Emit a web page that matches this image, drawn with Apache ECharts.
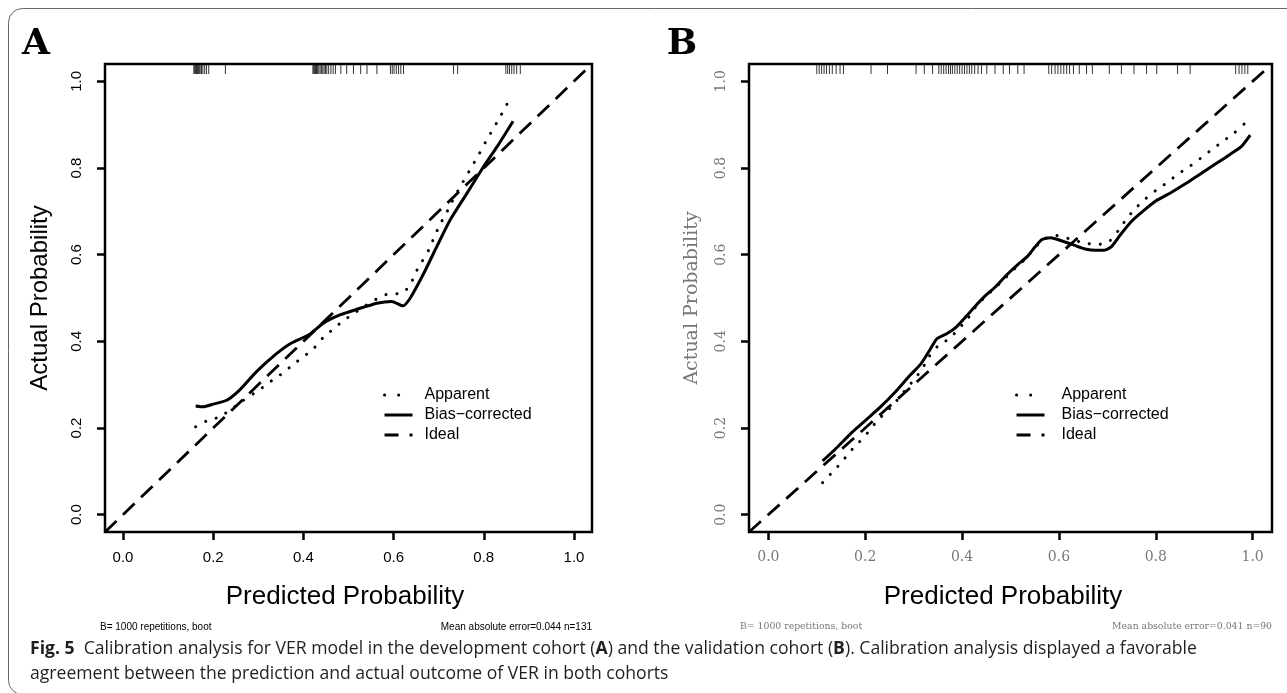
<!DOCTYPE html>
<html><head><meta charset="utf-8">
<script src="https://cdn.jsdelivr.net/npm/echarts@6/dist/echarts.min.js"></script>
<style>html,body{margin:0;padding:0;background:#fff}#c{width:1287px;height:693px}</style>
</head><body><div id="c"></div><script>
// ---------- data ----------
const tickValues = [0, 0.2, 0.4, 0.6, 0.8, 1.0];
const legendNames = ['Apparent', 'Bias\u2212corrected', 'Ideal'];
const idealLine = [[-0.04, -0.04], [1.04, 1.04]];

const apparentA = [[0.161,0.203],[0.187,0.217],[0.215,0.226],[0.263,0.261],[0.309,0.293],[0.332,0.311],[0.356,0.328],[0.379,0.348],[0.402,0.366],[0.425,0.386],[0.444,0.409],[0.467,0.429],[0.489,0.448],[0.513,0.465],[0.537,0.482],[0.561,0.497],[0.587,0.509],[0.615,0.510],[0.636,0.528],[0.648,0.557],[0.663,0.584],[0.678,0.611],[0.690,0.640],[0.702,0.668],[0.717,0.696],[0.730,0.723],[0.744,0.750],[0.759,0.777],[0.774,0.804],[0.789,0.831],[0.804,0.860],[0.819,0.887],[0.833,0.912],[0.848,0.941],[0.863,0.968]];
const biasA = [[0.161,0.251],[0.178,0.249],[0.200,0.255],[0.230,0.264],[0.259,0.288],[0.296,0.330],[0.341,0.372],[0.370,0.394],[0.415,0.417],[0.444,0.442],[0.481,0.461],[0.519,0.474],[0.563,0.488],[0.596,0.492],[0.621,0.482],[0.637,0.500],[0.667,0.557],[0.696,0.619],[0.726,0.681],[0.763,0.742],[0.800,0.804],[0.830,0.850],[0.865,0.908]];
const rugA = [0.157,0.159,0.161,0.163,0.165,0.167,0.169,0.171,0.174,0.177,0.181,0.185,0.190,0.227,0.421,0.423,0.425,0.427,0.429,0.431,0.434,0.437,0.440,0.443,0.446,0.449,0.452,0.456,0.461,0.466,0.471,0.483,0.496,0.511,0.527,0.541,0.563,0.593,0.597,0.601,0.606,0.611,0.616,0.622,0.733,0.742,0.849,0.853,0.857,0.862,0.867,0.873,0.881];

const apparentB = [[0.112,0.074],[0.132,0.098],[0.152,0.122],[0.169,0.146],[0.188,0.168],[0.208,0.193],[0.225,0.217],[0.246,0.240],[0.265,0.263],[0.283,0.288],[0.302,0.313],[0.318,0.337],[0.332,0.365],[0.350,0.389],[0.373,0.406],[0.394,0.430],[0.412,0.453],[0.427,0.478],[0.446,0.501],[0.469,0.524],[0.491,0.548],[0.512,0.571],[0.531,0.590],[0.550,0.615],[0.569,0.636],[0.596,0.644],[0.623,0.636],[0.652,0.627],[0.679,0.623],[0.705,0.632],[0.723,0.656],[0.740,0.683],[0.758,0.707],[0.778,0.728],[0.800,0.748],[0.823,0.766],[0.846,0.786],[0.869,0.803],[0.892,0.822],[0.915,0.842],[0.938,0.861],[0.962,0.881],[0.983,0.902]];
const biasB = [[0.112,0.124],[0.138,0.151],[0.169,0.186],[0.200,0.217],[0.231,0.248],[0.262,0.283],[0.292,0.321],[0.315,0.348],[0.335,0.383],[0.348,0.406],[0.369,0.418],[0.388,0.433],[0.408,0.457],[0.423,0.476],[0.446,0.503],[0.469,0.526],[0.492,0.553],[0.515,0.577],[0.535,0.596],[0.550,0.617],[0.565,0.635],[0.583,0.639],[0.608,0.631],[0.631,0.622],[0.654,0.613],[0.677,0.610],[0.692,0.610],[0.708,0.618],[0.727,0.646],[0.750,0.677],[0.773,0.700],[0.800,0.724],[0.831,0.743],[0.862,0.764],[0.892,0.786],[0.923,0.809],[0.954,0.832],[0.977,0.850],[0.995,0.876]];
const rugB = [0.100,0.105,0.110,0.115,0.120,0.126,0.132,0.140,0.148,0.155,0.212,0.246,0.305,0.322,0.339,0.352,0.357,0.362,0.367,0.372,0.376,0.380,0.385,0.390,0.395,0.400,0.405,0.410,0.415,0.420,0.426,0.433,0.440,0.451,0.468,0.485,0.498,0.515,0.528,0.579,0.585,0.592,0.598,0.604,0.610,0.616,0.622,0.630,0.642,0.657,0.669,0.704,0.729,0.755,0.781,0.802,0.845,0.871,0.965,0.972,0.978,0.984,0.990];

const footLeft = 'B= 1000 repetitions, boot';
const footRightA = 'Mean absolute error=0.044 n=131';
const footRightB = 'Mean absolute error=0.041 n=90';
const captionLine1 = ['Fig. 5', '  Calibration analysis for VER model in the development cohort (', 'A', ') and the validation cohort (', 'B', '). Calibration analysis displayed a favorable'];
const captionLine2 = 'agreement between the prediction and actual outcome of VER in both cohorts';

// ---------- styles ----------
const SANS = '"Liberation Sans", Arial, sans-serif';
const SERIF = '"DejaVu Serif", serif';
const panels = [
  {grid:{left:105, top:64, width:487, height:468}, font:SANS, tickColor:'#000', tickSize:15, app:apparentA, bias:biasA, rug:rugA},
  {grid:{left:749, top:64, width:523, height:468}, font:SERIF, tickColor:'#777', tickSize:14, app:apparentB, bias:biasB, rug:rugB}
];
const dotType = [0.1, 11];
const dashType = [16, 9];

const grids = [], xAxes = [], yAxes = [], series = [];
panels.forEach((p, i) => {
  grids.push(Object.assign({show:true, borderColor:'#000', borderWidth:2.5, backgroundColor:'transparent'}, p.grid));
  xAxes.push({type:'value', gridIndex:i, min:-0.04, max:1.04,
    axisLine:{show:false, onZero:false}, splitLine:{show:false},
    axisTick:{show:true, customValues:tickValues, length:8, lineStyle:{color:'#000', width:2.5}},
    axisLabel:{customValues:tickValues, formatter:v=>v.toFixed(1), margin:18, fontSize:p.tickSize, color:p.tickColor, fontFamily:p.font}});
  yAxes.push({type:'value', gridIndex:i, min:-0.04, max:1.04,
    axisLine:{show:false, onZero:false}, splitLine:{show:false},
    axisTick:{show:true, customValues:tickValues, length:8, lineStyle:{color:'#000', width:2.5}},
    axisLabel:{customValues:tickValues, formatter:v=>v.toFixed(1), rotate:90, margin:21, fontSize:p.tickSize, color:p.tickColor, fontFamily:p.font}});
  series.push({name:legendNames[2], type:'line', xAxisIndex:i, yAxisIndex:i, data:idealLine, symbol:'none', silent:true,
    lineStyle:{color:'#000', width:2.8, type:dashType}});
  series.push({name:legendNames[0], type:'line', xAxisIndex:i, yAxisIndex:i, data:p.app, symbol:'none', silent:true, smooth:0.2,
    lineStyle:{color:'#000', width:3, type:dotType, cap:'round'}});
  series.push({name:legendNames[1], type:'line', xAxisIndex:i, yAxisIndex:i, data:p.bias, symbol:'none', silent:true, smooth:0.2,
    lineStyle:{color:'#000', width:3}});
  series.push({name:'rug'+i, type:'scatter', xAxisIndex:i, yAxisIndex:i, data:p.rug.map(v=>[v, 1.04]), clip:false, silent:true,
    symbol:'rect', symbolSize:[1, 10], symbolOffset:[0, 5], itemStyle:{color:'#000'}});
});

function legendFor(left, top, pad) {
  return {left, top, orient:'vertical', itemWidth:28, itemHeight:14, itemGap:4, selectedMode:false,
    itemStyle:{opacity:0},
    textStyle:{fontSize:16, fontFamily:SANS, color:'#000', padding:[0,0,0,pad]},
    data:[
      {name:legendNames[0], lineStyle:{type:[0.1, 14], cap:'round', width:3}},
      {name:legendNames[1], lineStyle:{width:3}},
      {name:legendNames[2], lineStyle:{type:[14, 11], width:3}}
    ]};
}

function txt(x, y, text, font, fill, opts) {
  return Object.assign({type:'text', x, y, silent:true,
    style:{text, font, fill, align:'center', verticalAlign:'middle'}}, opts || {});
}
const capStyle = {fontSize:17.6, fontFamily:'"Open Sans", sans-serif', fill:'#231f20'};
const capRich = {n:Object.assign({}, capStyle), b:Object.assign({fontWeight:'bold'}, capStyle)};
const cap1 = captionLine1.map((s, k) => (k === 0 || k === 2 || k === 4) ? '{b|' + s + '}' : '{n|' + s + '}').join('');

const graphic = [
  {type:'rect', silent:true, shape:{x:8.5, y:8.5, width:1400, height:686, r:14}, style:{fill:null, stroke:'#666', lineWidth:1}},
  txt(36, 45, 'A', 'bold 36px ' + SERIF, '#000'),
  txt(682, 45, 'B', 'bold 36px ' + SERIF, '#000'),
  txt(40, 298, 'Actual Probability', '24px ' + SANS, '#000', {rotation:Math.PI/2}),
  txt(692, 298, 'Actual Probability', '19px ' + SERIF, '#777', {rotation:Math.PI/2}),
  txt(345, 597, 'Predicted Probability', '26px ' + SANS, '#000'),
  txt(1003, 597, 'Predicted Probability', '26px ' + SANS, '#000'),
  {type:'text', x:100, y:627, silent:true, style:{text:footLeft, font:'10px ' + SANS, fill:'#000', align:'left', verticalAlign:'middle'}},
  {type:'text', x:592, y:627, silent:true, style:{text:footRightA, font:'10px ' + SANS, fill:'#000', align:'right', verticalAlign:'middle'}},
  {type:'text', x:740, y:627, silent:true, style:{text:footLeft, font:'9.3px ' + SERIF, fill:'#777', align:'left', verticalAlign:'middle'}},
  {type:'text', x:1272, y:627, silent:true, style:{text:footRightB, font:'9.3px ' + SERIF, fill:'#777', align:'right', verticalAlign:'middle'}},
  {type:'text', x:30, y:649, silent:true, style:{text:cap1, rich:capRich, align:'left', verticalAlign:'middle'}},
  {type:'text', x:30, y:674, silent:true, style:{text:captionLine2, font:'17.6px "Open Sans", sans-serif', fill:'#231f20', align:'left', verticalAlign:'middle'}}
];

const chart = echarts.init(document.getElementById('c'), null, {renderer:'canvas'});
chart.setOption({
  animation:false, backgroundColor:'#fff',
  grid:grids, xAxis:xAxes, yAxis:yAxes, series,
  legend:[legendFor(378, 382, 7), legendFor(1010, 382, 12)],
  graphic
});
</script></body></html>
